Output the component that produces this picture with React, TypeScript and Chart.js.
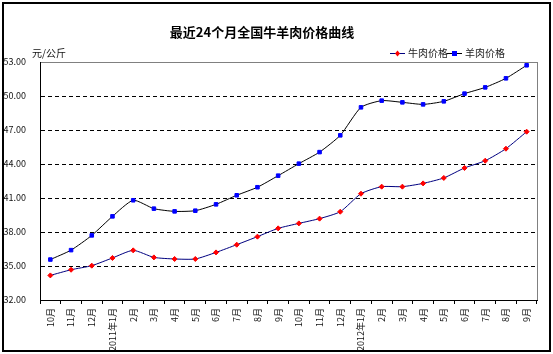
import React, { useEffect, useRef } from "react";
import { Chart, registerables } from "chart.js";

Chart.register(...registerables);

const categories: string[] = [
  "10月", "11月", "12月", "2011年1月", "2月", "3月", "4月", "5月", "6月", "7月", "8月", "9月",
  "10月", "11月", "12月", "2012年1月", "2月", "3月", "4月", "5月", "6月", "7月", "8月", "9月",
];

const beefPrices: number[] = [
  34.17, 34.67, 35.03, 35.71, 36.38, 35.76, 35.62, 35.62, 36.2, 36.88, 37.59, 38.32,
  38.76, 39.18, 39.79, 41.38, 42.0, 42.0, 42.29, 42.77, 43.65, 44.29, 45.35, 46.85,
];

const muttonPrices: number[] = [
  35.57, 36.4, 37.7, 39.38, 40.8, 40.06, 39.82, 39.88, 40.44, 41.24, 41.95, 42.97,
  44.03, 45.05, 46.53, 49.0, 49.59, 49.44, 49.26, 49.53, 50.21, 50.76, 51.56, 52.71,
];

const seriesNames: string[] = ["牛肉价格", "羊肉价格"];
const titleText = "最近24个月全国牛羊肉价格曲线";
const unitText = "元/公斤";
const yMin = 32;
const yMax = 53;
const yStep = 3;

const FONT = "'Noto Sans CJK SC', 'DejaVu Sans', sans-serif";

const decorPlugin = {
  id: "decor",
  beforeDraw(chart: any) {
    const { ctx, chartArea } = chart;
    ctx.save();
    ctx.fillStyle = "#fff";
    ctx.fillRect(0, 0, chart.width, chart.height);
    ctx.strokeStyle = "#000";
    ctx.lineWidth = 2;
    ctx.strokeRect(3, 3, chart.width - 6, chart.height - 6);
    ctx.strokeStyle = "#808080";
    ctx.lineWidth = 1;
    ctx.strokeRect(
      Math.round(chartArea.left) + 0.5,
      Math.round(chartArea.top) + 0.5,
      Math.round(chartArea.right - chartArea.left),
      Math.round(chartArea.bottom - chartArea.top)
    );
    ctx.restore();
  },
  afterDraw(chart: any) {
    const { ctx } = chart;
    ctx.save();
    ctx.fillStyle = "#000";
    ctx.font = `bold 13px ${FONT}`;
    ctx.textAlign = "center";
    ctx.textBaseline = "middle";
    ctx.fillText(titleText, 262, 32);
    ctx.font = `10px ${FONT}`;
    ctx.textAlign = "left";
    ctx.fillStyle = "#111";
    ctx.fillText(unitText, 32, 53);
    const items = [
      { name: seriesNames[0], line: "#000080", marker: "#ff0000", style: "diamond", x: 390 },
      { name: seriesNames[1], line: "#000000", marker: "#0000ff", style: "square", x: 447 },
    ];
    const ly = 53;
    for (const it of items) {
      ctx.strokeStyle = it.line;
      ctx.lineWidth = 1;
      ctx.beginPath();
      ctx.moveTo(it.x, ly + 0.5);
      ctx.lineTo(it.x + 15, ly + 0.5);
      ctx.stroke();
      ctx.fillStyle = it.marker;
      const cx = it.x + 7.5;
      if (it.style === "square") {
        ctx.fillRect(cx - 2.5, ly - 2, 5, 5);
      } else {
        ctx.beginPath();
        ctx.moveTo(cx, ly - 2.5);
        ctx.lineTo(cx + 2.5, ly + 0.5);
        ctx.lineTo(cx, ly + 3.5);
        ctx.lineTo(cx - 2.5, ly + 0.5);
        ctx.closePath();
        ctx.fill();
      }
      ctx.fillStyle = "#222";
      ctx.font = `10px ${FONT}`;
      ctx.textAlign = "left";
      ctx.fillText(it.name, it.x + 18, ly);
    }
    ctx.restore();
  },
};

export default function App() {
  const ref = useRef<HTMLCanvasElement | null>(null);
  useEffect(() => {
    if (!ref.current) return;
    const chart = new Chart(ref.current, {
      type: "line",
      data: {
        labels: categories,
        datasets: [
          {
            label: seriesNames[0],
            data: beefPrices,
            borderColor: "#000080",
            borderWidth: 1,
            backgroundColor: "#ff0000",
            pointBackgroundColor: "#ff0000",
            pointBorderColor: "#ff0000",
            pointStyle: "rectRot",
            pointRadius: 2.5,
            pointBorderWidth: 1,
            tension: 0.2,
            fill: false,
          },
          {
            label: seriesNames[1],
            data: muttonPrices,
            borderColor: "#000000",
            borderWidth: 1,
            backgroundColor: "#0000ff",
            pointBackgroundColor: "#0000ff",
            pointBorderColor: "#0000ff",
            pointStyle: "rect",
            pointRadius: 2.5,
            pointBorderWidth: 1,
            tension: 0.2,
            fill: false,
          },
        ],
      },
      options: {
        responsive: false,
        animation: false,
        devicePixelRatio: 1,
        layout: { padding: { left: 4, right: 16, top: 62, bottom: 0 } },
        plugins: {
          legend: { display: false },
          title: { display: false },
          tooltip: { enabled: false },
        },
        scales: {
          x: {
            type: "category",
            offset: true,
            grid: {
              offset: true,
              drawOnChartArea: false,
              drawTicks: true,
              tickLength: 4,
              color: "#000",
            },
            border: { display: true, color: "#000", width: 1 },
            ticks: {
              autoSkip: false,
              maxRotation: 90,
              minRotation: 90,
              padding: 4,
              color: "#111",
              font: { family: FONT, size: 9 },
            },
            afterFit(scale: any) {
              scale.height = 54;
            },
          },
          y: {
            type: "linear",
            min: yMin,
            max: yMax,
            grid: {
              drawTicks: false,
              color: (c: any) =>
                c.tick && (c.tick.value === yMin || c.tick.value === yMax) ? "rgba(0,0,0,0)" : "#000",
              lineWidth: 1,
            },
            border: { display: true, color: "#000", width: 1, dash: [4, 3] },
            ticks: {
              stepSize: yStep,
              padding: 14,
              color: "#111",
              font: { family: FONT, size: 9 },
              callback: (v: any) => Number(v).toFixed(2),
            },
            afterFit(scale: any) {
              scale.width = 36;
            },
          },
        },
      },
      plugins: [decorPlugin],
    } as any);
    return () => chart.destroy();
  }, []);
  return (
    <div style={{ position: "absolute", left: 0, top: 0 }}>
      <canvas ref={ref} width={553} height={354} style={{ width: 553, height: 354, display: "block" }} />
    </div>
  );
}
